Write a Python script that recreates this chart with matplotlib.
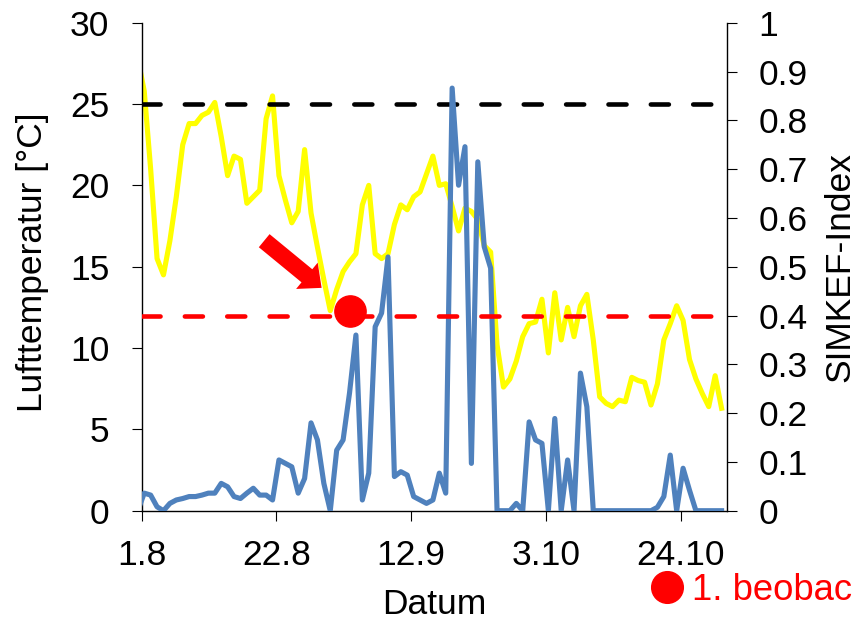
import numpy as np
import matplotlib
matplotlib.use("Agg")
import matplotlib.pyplot as plt

plt.rcParams['font.family'] = ['Liberation Sans', 'DejaVu Sans']
plt.rcParams['lines.scale_dashes'] = False

# Tageswerte (ein Wert pro Tag, erster Punkt liegt vor dem 1.8.)
luft_temp = [27.8,
             25.8, 21.0, 15.5, 14.5, 16.6, 19.3, 22.5, 23.8, 23.8, 24.3,
             24.5, 25.1, 23.0, 20.6, 21.8, 21.6, 18.9, 19.3, 19.7, 24.1,
             25.5, 20.6, 19.1, 17.7, 18.4, 22.2, 18.3, 16.2, 14.2, 12.3,
             13.6, 14.7, 15.3, 15.8, 18.8, 20.0, 15.8, 15.5, 15.8, 17.6,
             18.8, 18.5, 19.3, 19.6, 20.7, 21.8, 20.0, 20.1, 18.7, 17.2,
             18.6, 18.4, 17.9, 16.3, 15.9, 10.2, 7.6, 8.1, 9.2, 10.7,
             11.5, 11.6, 13.0, 9.7, 13.4, 10.5, 12.5, 10.7, 12.6, 13.3,
             10.5, 7.0, 6.6, 6.4, 6.8, 6.7, 8.2, 8.0, 7.9, 6.5,
             7.8, 10.5, 11.5, 12.6, 11.7, 9.3, 8.1, 7.2, 6.4, 8.3,
             6.3]
simkef = [0.0,
          0.036, 0.032, 0.008, 0.0, 0.015, 0.022, 0.025, 0.029, 0.029, 0.032,
          0.036, 0.036, 0.056, 0.049, 0.029, 0.025, 0.036, 0.046, 0.032, 0.032,
          0.022, 0.104, 0.097, 0.090, 0.036, 0.066, 0.180, 0.145, 0.056, 0.0,
          0.124, 0.145, 0.241, 0.360, 0.022, 0.077, 0.377, 0.405, 0.520, 0.070,
          0.080, 0.073, 0.029, 0.022, 0.015, 0.022, 0.077, 0.036, 0.866, 0.667,
          0.746, 0.097, 0.715, 0.541, 0.497, 0.0, 0.0, 0.0, 0.015, 0.0,
          0.182, 0.145, 0.138, 0.0, 0.189, 0.0, 0.104, 0.0, 0.282, 0.213,
          0.0, 0.0, 0.0, 0.0, 0.0, 0.0, 0.0, 0.0, 0.0, 0.0,
          0.007, 0.029, 0.114, 0.0, 0.087, 0.042, 0.0, 0.0, 0.0, 0.0,
          0.0]
tage = np.arange(len(luft_temp)) - 0.6   # Tage seit 1.8.

tick_tage = [0, 21, 42, 63, 84]
tick_labels = ['1.8', '22.8', '12.9', '3.10', '24.10']
links_ticks = [0, 5, 10, 15, 20, 25, 30]
rechts_ticks = [0, 0.1, 0.2, 0.3, 0.4, 0.5, 0.6, 0.7, 0.8, 0.9, 1]
rechts_labels = ['0', '0.1', '0.2', '0.3', '0.4', '0.5', '0.6', '0.7', '0.8', '0.9', '1']
schwelle_hoch = 25      # Lufttemperatur
schwelle_simkef = 0.4   # SIMKEF-Index
beob_tag, beob_temp = 32.4, 12.3
pfeil_von = (19.1, 16.6)
pfeil_bis = (28.05, 13.7)

fs = 25.5
fig = plt.figure(figsize=(8.56, 6.21), dpi=100)
ax = fig.add_axes([0.1655, 0.1776, 0.6842, 0.7858])
ax2 = ax.twinx()

ax.plot(tage, luft_temp, color='#FFFF00', lw=3.7, solid_joinstyle='round', zorder=2)
ax.axhline(schwelle_hoch, color='black', lw=3.3, dashes=(13, 17.5),
           dash_capstyle='round', zorder=3)
ax2.plot(tage, simkef, color='#4F81BD', lw=3.7, solid_joinstyle='round', zorder=2)
ax2.axhline(schwelle_simkef, color='#FF0000', lw=3.3, dashes=(13, 17.5),
            dash_capstyle='round', zorder=3)
ax2.plot([beob_tag], [beob_temp / 30], 'o', color='#FF0000', ms=22.5, zorder=4)
ax2.annotate('', xy=(pfeil_bis[0], pfeil_bis[1] / 30),
             xytext=(pfeil_von[0], pfeil_von[1] / 30),
             arrowprops=dict(arrowstyle='simple,head_length=13.7,head_width=24.5,tail_width=12.2',
                             mutation_scale=1, color='#FF0000', shrinkA=0, shrinkB=0, lw=0),
             zorder=5)

ax.set_xlim(0, 91.3)
ax.set_ylim(0, 30)
ax2.set_ylim(0, 1)
ax.set_xticks(tick_tage)
ax.set_xticklabels(tick_labels)
ax.set_yticks(links_ticks)
ax2.set_yticks(rechts_ticks)
ax2.set_yticklabels(rechts_labels)

for a in (ax, ax2):
    a.spines['top'].set_visible(False)
    for s in a.spines.values():
        s.set_linewidth(1.0)
ax.spines['right'].set_visible(False)
ax2.spines['left'].set_visible(False)
ax2.spines['bottom'].set_visible(False)

ax.tick_params(axis='both', direction='out', length=7.2, width=0.8, labelsize=fs)
ax.tick_params(axis='y', pad=16)
ax.tick_params(axis='x', pad=13)
ax2.tick_params(axis='y', direction='out', length=7.2, width=0.8, labelsize=fs, pad=15)

ax.set_xlabel('Datum', fontsize=fs, va='center')
ax.xaxis.set_label_coords(0.499, -0.192)
ax.set_ylabel('Lufttemperatur [°C]', fontsize=fs, va='center')
ax.yaxis.set_label_coords(-0.187, 0.51)
ax2.set_ylabel('SIMKEF-Index', fontsize=fs, va='center')
ax2.yaxis.set_label_coords(1.1925, 0.5)

# Legende unten rechts (am Rand abgeschnitten)
fig.lines.append(plt.Line2D([0.7795], [0.0555], marker='o', color='#FF0000', ms=22.8,
                            transform=fig.transFigure))
fig.text(0.808, 0.0338, '1. beobac', color='#FF0000', fontsize=26.3, va='baseline')

fig.savefig('out.png', dpi=100)
